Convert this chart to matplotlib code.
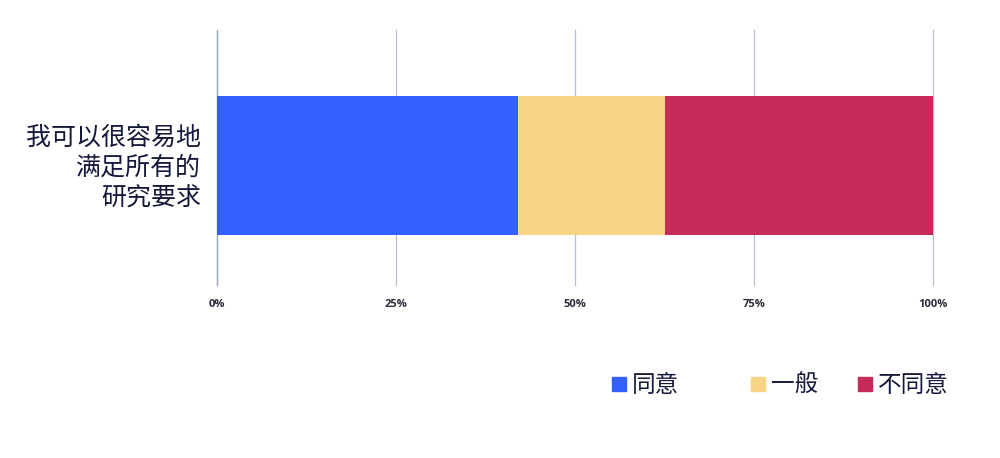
import matplotlib.pyplot as plt
from matplotlib.patches import Rectangle

plt.rcParams['font.family'] = ['Noto Sans CJK SC', 'DejaVu Sans']

# data
question = "我可以很容易地\n满足所有的\n研究要求"
series_names = ["同意", "一般", "不同意"]
series_values = [42.0, 20.5, 37.5]
colors = ["#3360FF", "#F6D584", "#C62A58"]
tick_values = [0, 25, 50, 75, 100]
tick_labels = ["0%", "25%", "50%", "75%", "100%"]

fig = plt.figure(figsize=(10, 4.58), dpi=100)
ax = fig.add_axes([0.217, 1 - 285 / 458, 0.716, 255 / 458])

left = 0
for name, val, col in zip(series_names, series_values, colors):
    ax.barh(0, val, left=left, height=0.55, color=col, label=name, zorder=3)
    left += val

ax.set_xlim(0, 100)
ax.set_ylim(-0.473, 0.536)
ax.set_xticks(tick_values)
ax.set_xticklabels(tick_labels, fontsize=8, fontweight='bold', color='#2b2b3a',
                   family=['Open Sans', 'DejaVu Sans'])
ax.tick_params(axis='x', length=0, pad=10)
ax.set_yticks([])
ax.grid(axis='x', color='#b4c0cf', linewidth=0.9, zorder=0)
for gl in ax.get_xgridlines():
    gl.set_clip_on(False)
for side in ['top', 'right', 'bottom']:
    ax.spines[side].set_visible(False)
ax.spines['left'].set_color('#9aa6b4')
ax.spines['left'].set_linewidth(0.9)

fig.text(0.201, 1 - 168 / 458, question, ha='right', va='center', fontsize=18,
         color='#14183a', linespacing=1.2)

# legend placed by hand
legend_x = [612, 751, 858]
for x, name, col in zip(legend_x, series_names, colors):
    fig.patches.append(Rectangle((x / 1000, 1 - 391 / 458), 14 / 1000, 14 / 458,
                                 transform=fig.transFigure, color=col))
    fig.text((x + 20) / 1000, 1 - 385 / 458, name, ha='left', va='center',
             fontsize=17, color='#14183a')

fig.savefig("out.png", dpi=100)
